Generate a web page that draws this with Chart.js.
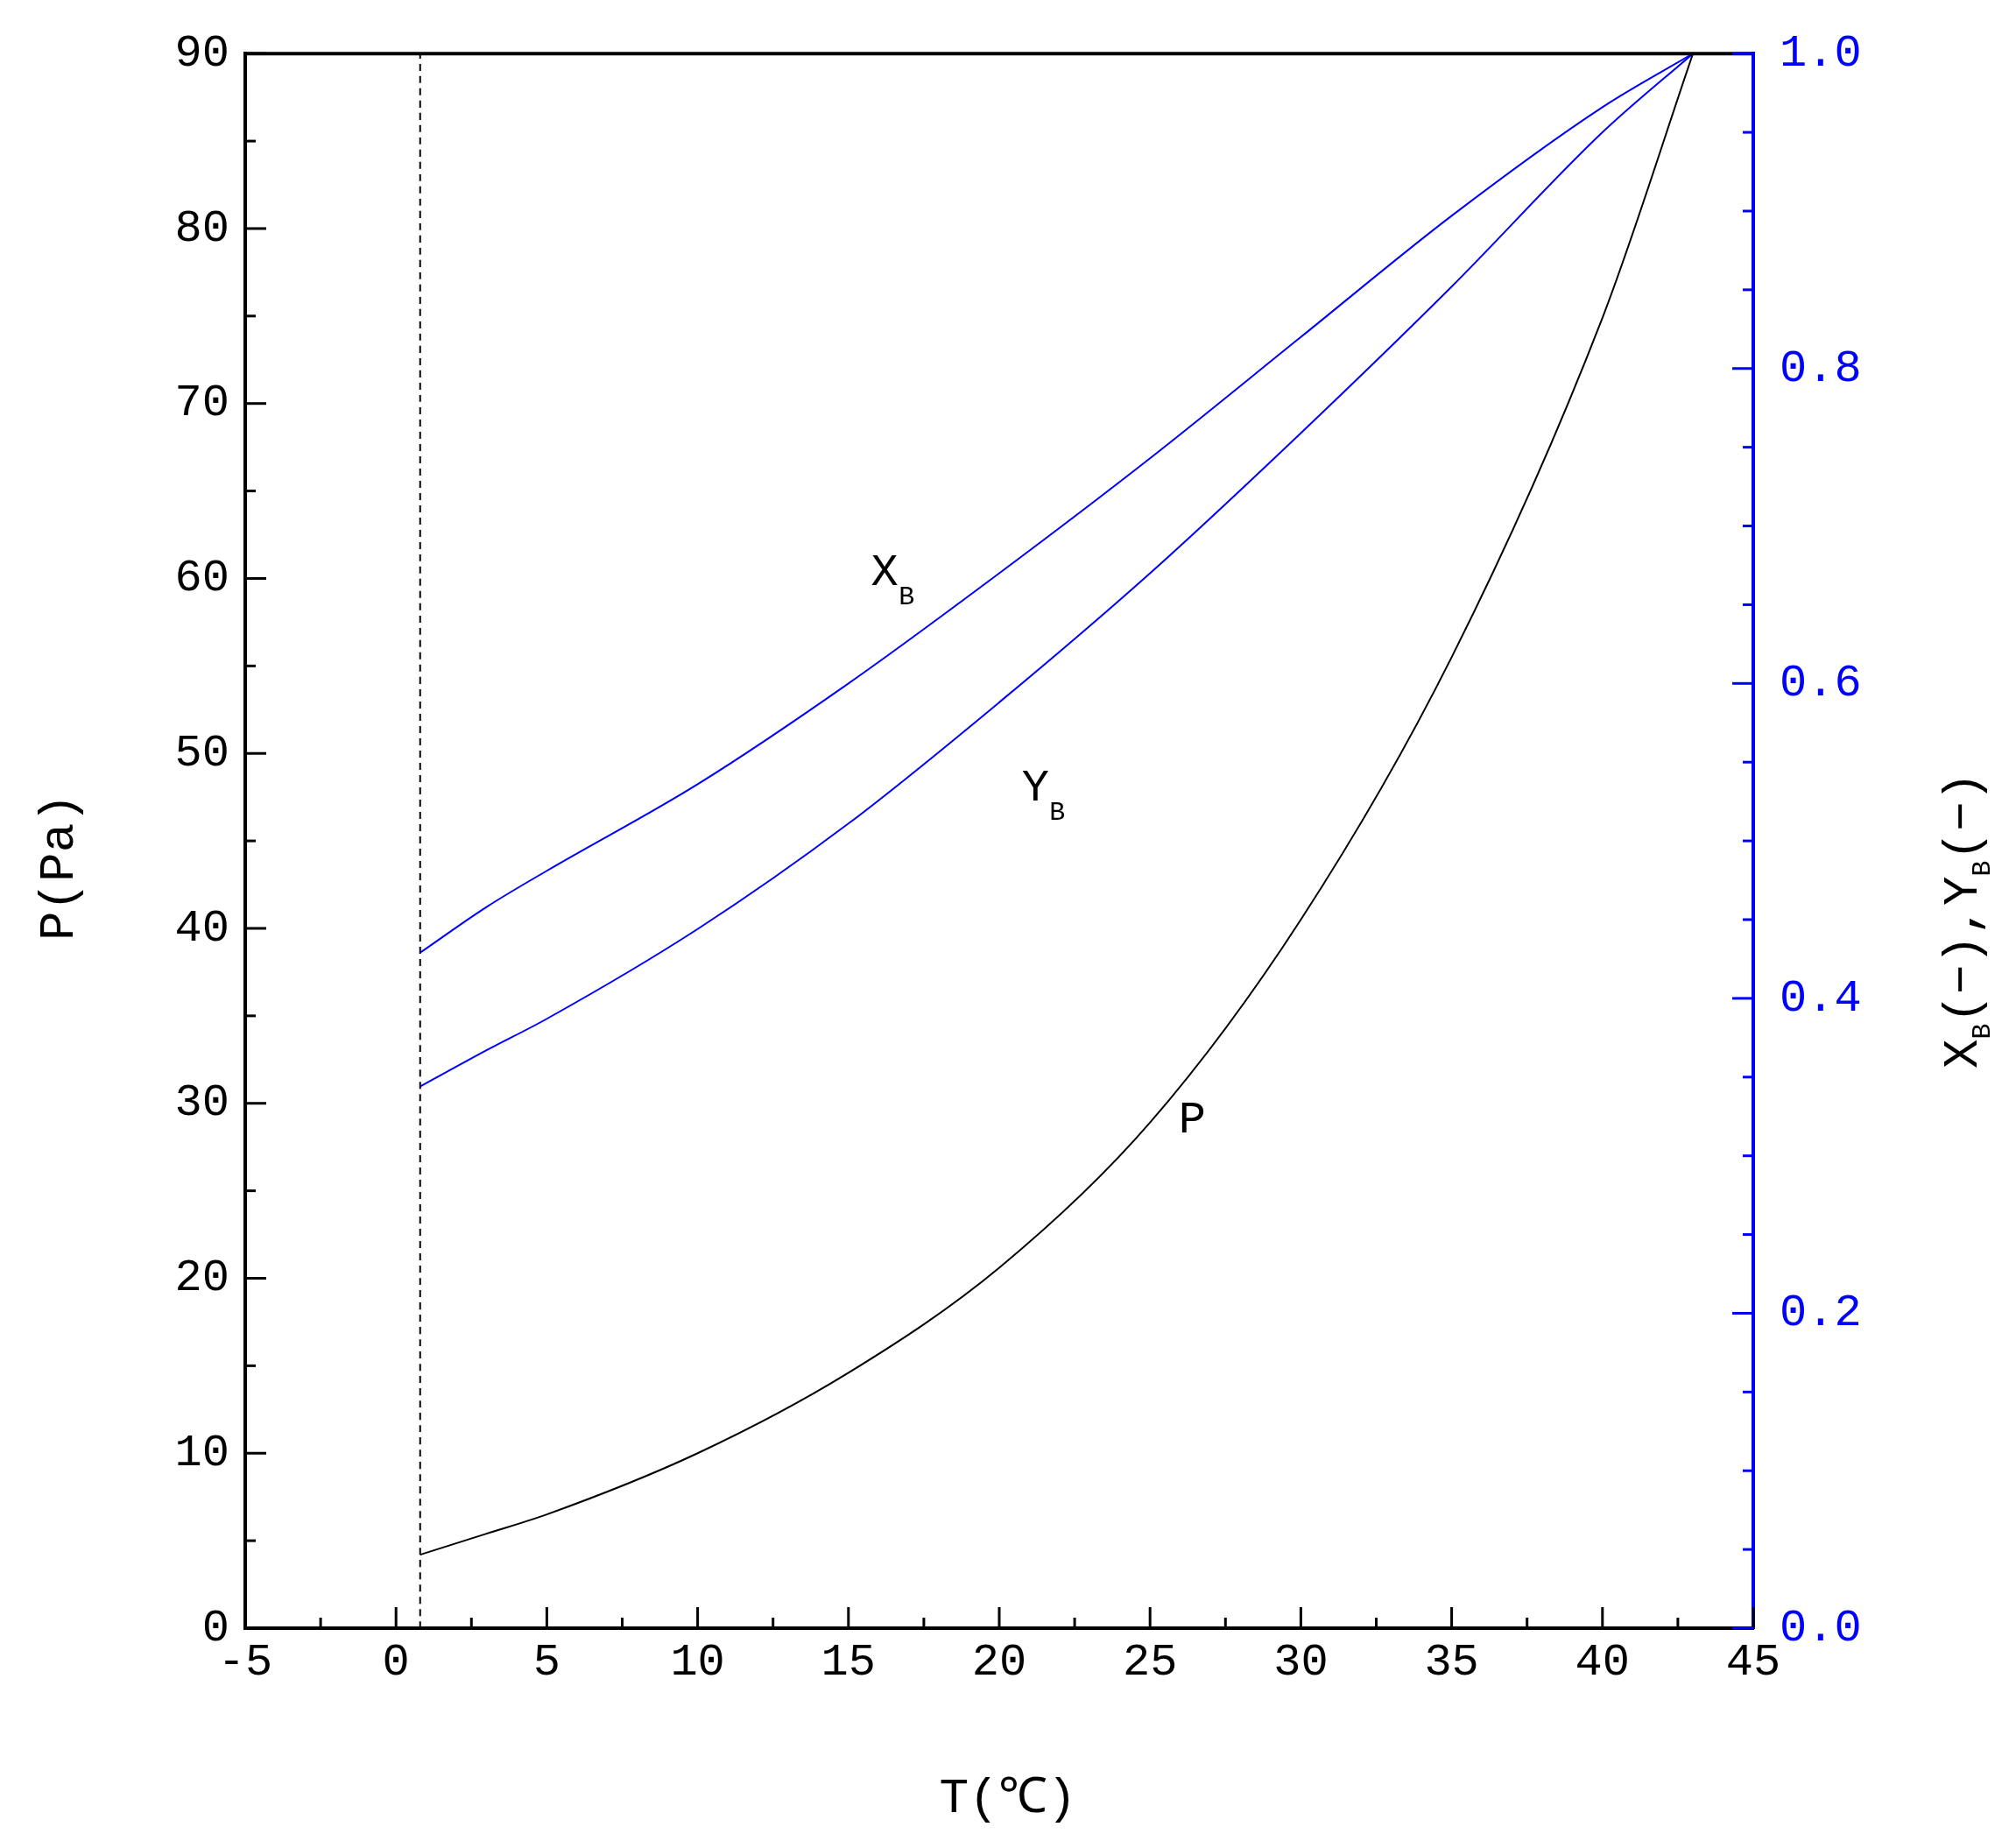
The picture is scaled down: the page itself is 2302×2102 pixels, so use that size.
<!DOCTYPE html>
<html>
<head>
<meta charset="utf-8">
<script src="https://cdn.jsdelivr.net/npm/chart.js@4/dist/chart.umd.min.js"></script>
<style>
  html, body { margin: 0; padding: 0; background: #fff; }
  #wrap { width: 2302px; height: 2102px; }
</style>
</head>
<body>
<div id="wrap"><canvas id="c" width="2302" height="2102"></canvas></div>
<script>
// temperature (°C) and curve values
const temps = [0.8, 3, 5, 10, 15, 20, 25, 30, 35, 40, 43];
const pressure = [4.2, 5.4, 6.5, 10, 14.6, 20.6, 28.9, 40.5, 55.5, 74.9, 90];
const xB = [0.429, 0.458, 0.481, 0.536, 0.600, 0.670, 0.743, 0.820, 0.897, 0.966, 1.0];
const yB = [0.344, 0.367, 0.387, 0.444, 0.511, 0.588, 0.670, 0.759, 0.852, 0.950, 1.0];
const dashT = 0.8;

const FONT = '"Liberation Mono", "DejaVu Sans Mono", monospace';
const BLUE = '#0000ff';

const pts = (xs, ys) => xs.map((x, i) => ({ x: x, y: ys[i] }));

// inward ticks, frame, curve labels and axis titles
const decor = {
  id: 'decor',
  afterDraw(chart) {
    const { ctx, chartArea: a, scales } = chart;
    const sx = scales.x, sl = scales.y, sr = scales.y2;
    ctx.save();
    ctx.lineCap = 'butt';
    ctx.strokeStyle = '#000'; ctx.lineWidth = 4;
    ctx.beginPath(); ctx.moveTo(a.left, a.top); ctx.lineTo(a.right, a.top); ctx.stroke();
    ctx.lineWidth = 3;
    for (let v = -5; v <= 45; v += 2.5) {
      const px = sx.getPixelForValue(v), len = v % 5 === 0 ? 24 : 12;
      ctx.beginPath(); ctx.moveTo(px, a.bottom); ctx.lineTo(px, a.bottom - len); ctx.stroke();
    }
    for (let v = 0; v <= 90; v += 5) {
      const py = sl.getPixelForValue(v), len = v % 10 === 0 ? 24 : 12;
      ctx.beginPath(); ctx.moveTo(a.left, py); ctx.lineTo(a.left + len, py); ctx.stroke();
    }
    ctx.strokeStyle = BLUE;
    for (let i = 0; i <= 20; i++) {
      const v = i * 0.05, py = sr.getPixelForValue(v), len = i % 4 === 0 ? 24 : 12;
      ctx.beginPath(); ctx.moveTo(a.right, py); ctx.lineTo(a.right - len, py); ctx.stroke();
    }
    ctx.fillStyle = '#000';
    const lab = (main, sub, t, p) => {
      const px = sx.getPixelForValue(t), py = sl.getPixelForValue(p);
      ctx.font = '52px ' + FONT; ctx.textBaseline = 'middle'; ctx.textAlign = 'center';
      ctx.fillText(main, px, py);
      if (sub) { ctx.font = '30px ' + FONT; ctx.textAlign = 'left'; ctx.fillText(sub, px + 16, py + 28); }
    };
    lab('X', 'B', 16.2, 60.3);
    lab('Y', 'B', 21.2, 48);
    lab('P', '', 26.4, 29);
    ctx.font = '56px ' + FONT; ctx.textAlign = 'center'; ctx.textBaseline = 'middle';
    ctx.fillText('T(℃)', (a.left + a.right) / 2 + 10, a.bottom + 195);
    ctx.save(); ctx.translate(68, (a.top + a.bottom) / 2 + 30); ctx.rotate(-Math.PI / 2);
    ctx.fillText('P(Pa)', 0, 0); ctx.restore();
    ctx.save(); ctx.translate(2242, (a.top + a.bottom) / 2 + 30); ctx.rotate(-Math.PI / 2);
    ctx.textAlign = 'left';
    let x = -230;
    const part = (s, sub) => {
      ctx.font = (sub ? '30px ' : '56px ') + FONT;
      ctx.fillText(s, x, sub ? 22 : 0);
      x += ctx.measureText(s).width;
    };
    part('X'); part('B', 1); part('(−)'); part(','); part('Y'); part('B', 1); part('(−)');
    ctx.restore();
    ctx.restore();
  }
};

new Chart(document.getElementById('c').getContext('2d'), {
  type: 'scatter',
  data: {
    datasets: [
      { label: 'P', data: pts(temps, pressure), yAxisID: 'y', borderColor: '#000' },
      { label: 'XB', data: pts(temps, xB), yAxisID: 'y2', borderColor: BLUE },
      { label: 'YB', data: pts(temps, yB), yAxisID: 'y2', borderColor: BLUE },
      { label: 'dash', data: [{ x: dashT, y: 0 }, { x: dashT, y: 90 }], yAxisID: 'y',
        borderColor: '#000', borderDash: [8, 6], borderWidth: 2, tension: 0 }
    ]
  },
  options: {
    responsive: false,
    animation: false,
    layout: { padding: { top: 37 } },
    datasets: { scatter: { showLine: true, pointRadius: 0, borderWidth: 2, tension: 0.4, cubicInterpolationMode: 'monotone' } },
    plugins: { legend: { display: false }, tooltip: { enabled: false } },
    scales: {
      x: {
        type: 'linear', min: -5, max: 45,
        ticks: { stepSize: 5, color: '#000', font: { family: FONT, size: 52 }, padding: 8 },
        grid: { display: false, drawTicks: false },
        border: { color: '#000', width: 4 },
        afterFit(s) { s.height = 243; }
      },
      y: {
        position: 'left', min: 0, max: 90,
        ticks: { stepSize: 10, color: '#000', font: { family: FONT, size: 52 }, padding: 18 },
        grid: { display: false, drawTicks: false },
        border: { color: '#000', width: 4 },
        afterFit(s) { s.width = 280; }
      },
      y2: {
        position: 'right', min: 0, max: 1,
        ticks: { stepSize: 0.2, color: BLUE, font: { family: FONT, size: 52 }, padding: 30,
                 callback: v => v.toFixed(1) },
        grid: { display: false, drawTicks: false },
        border: { color: BLUE, width: 4 },
        afterFit(s) { s.width = 300; }
      }
    }
  },
  plugins: [decor]
});
</script>
</body>
</html>
